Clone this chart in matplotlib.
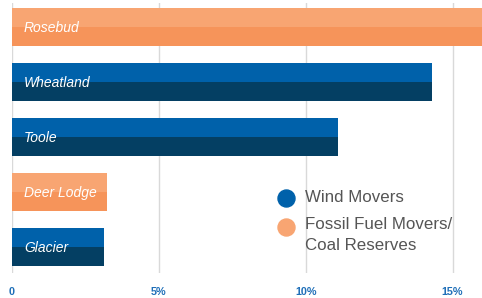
import matplotlib.pyplot as plt
import numpy as np

plt.rcParams['font.family'] = ['Liberation Sans', 'DejaVu Sans']

# data
counties = ['Rosebud', 'Wheatland', 'Toole', 'Deer Lodge', 'Glacier']
share = [16.0, 14.3, 11.1, 3.22, 3.13]
kind = ['coal', 'wind', 'wind', 'coal', 'wind']
xticks = [0, 5, 10, 15]
xtick_labels = ['0', '5%', '10%', '15%']

# light top half / dark bottom half
cols = {'wind': ('#0061AA', '#043F63'), 'coal': ('#F8A572', '#F6945A')}

fig = plt.figure(figsize=(4.82, 2.98), dpi=100)
ax = fig.add_axes([12/482, 25/298, 470/482, 270/298])

y = np.arange(len(counties))
h = 0.69
top_c = [cols[k][0] for k in kind]
bot_c = [cols[k][1] for k in kind]
ax.barh(y - h/4, share, height=h/2, color=top_c, zorder=2)
ax.barh(y + h/4, share, height=h/2, color=bot_c, zorder=2)

for yi, name in zip(y, counties):
    ax.text(0.41, yi + 0.02, name, color='white', style='italic', fontsize=10,
            va='center', ha='left', zorder=3)

ax.set_xlim(0, 16)
ax.set_ylim(len(counties) - 1 + 0.473, -0.436)
ax.set_xticks(xticks)
ax.set_xticklabels(xtick_labels, color='#1F6FB8', fontsize=7.8, fontweight='bold')
ax.set_yticks([])
ax.tick_params(axis='x', length=0, pad=10)
ax.grid(axis='x', color='#D9D9D9', linewidth=1, zorder=0)
for s in ax.spines.values():
    s.set_visible(False)

# legend
ax.scatter([0.583], [0.278], s=150, color=cols['wind'][0], transform=ax.transAxes, clip_on=False)
ax.scatter([0.583], [0.170], s=150, color=cols['coal'][0], transform=ax.transAxes, clip_on=False)
ax.text(0.623, 0.278, 'Wind Movers', transform=ax.transAxes, fontsize=12.2,
        color='#555555', va='center')
ax.text(0.623, 0.170 + 0.036, 'Fossil Fuel Movers/\nCoal Reserves', transform=ax.transAxes,
        fontsize=12.2, color='#555555', va='top', linespacing=1.45)

fig.savefig('out.png', dpi=100)
